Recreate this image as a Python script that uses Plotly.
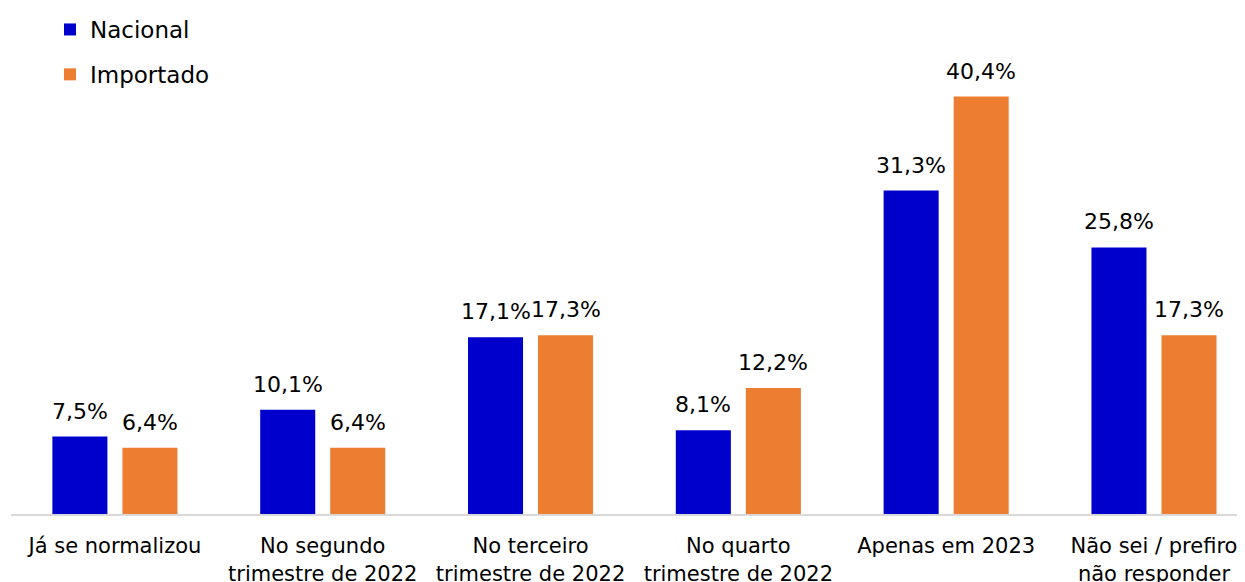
import plotly.graph_objects as go

categories = ["Já se normalizou", "No segundo<br>trimestre de 2022", "No terceiro<br>trimestre de 2022",
              "No quarto<br>trimestre de 2022", "Apenas em 2023", "Não sei / prefiro<br>não responder"]
nacional = [7.5, 10.1, 17.1, 8.1, 31.3, 25.8]
importado = [6.4, 6.4, 17.3, 12.2, 40.4, 17.3]

def fmt(v):
    return f"{v:.1f}%".replace(".", ",")

FONT = "DejaVu Sans, sans-serif"
BLUE = "#0000CC"
ORANGE = "#ED7D31"

fig = go.Figure()
fig.add_trace(go.Bar(name="Nacional", x=categories, y=nacional, marker_color=BLUE,
                     legendgroup="a", marker_line_width=0))
fig.add_trace(go.Bar(name="Importado", x=categories, y=importado, marker_color=ORANGE,
                     legendgroup="b", marker_line_width=0))

# value labels above bars (placed through the data axes, shifted to each bar's slot)
for vals, shift in ((nacional, -35), (importado, 35)):
    for cat, v in zip(categories, vals):
        fig.add_annotation(x=cat, y=v, xref="x", yref="y", text=fmt(v), showarrow=False,
                           xshift=shift, yshift=11, yanchor="bottom",
                           font=dict(size=22, color="black", family=FONT))

fig.update_layout(
    width=1237, height=574,
    margin=dict(l=3, r=0, t=41, b=68, pad=0, autoexpand=False),
    plot_bgcolor="white", paper_bgcolor="white",
    barmode="group", bargap=0.326, bargroupgap=0.214,
    font=dict(family=FONT, color="black", size=21),
    showlegend=True,
    legend=dict(x=0.0316, xanchor="left", y=1, yref="container", yanchor="top",
                font=dict(size=23, family=FONT), tracegroupgap=12,
                bgcolor="rgba(0,0,0,0)"),
    xaxis=dict(range=[-0.5, 5.438], showline=True, linecolor="#D9D9D9", linewidth=2,
               tickfont=dict(size=21, family=FONT), ticks="", showgrid=False,
               ticklabelstandoff=12),
    yaxis=dict(range=[0, 45], visible=False, showgrid=False, zeroline=False),
)

fig.write_html("out.html")
